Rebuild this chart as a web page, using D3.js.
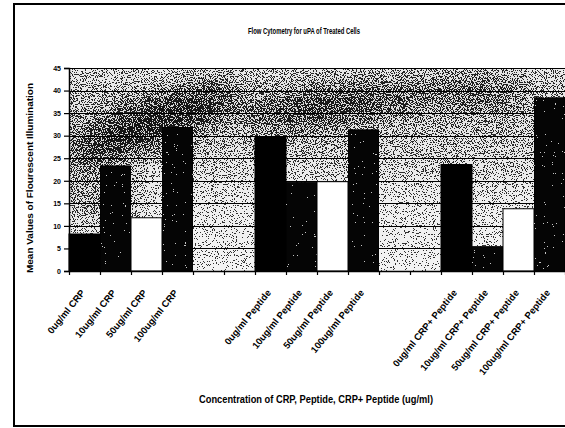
<!DOCTYPE html>
<html>
<head>
<meta charset="utf-8">
<script src="https://cdn.jsdelivr.net/npm/d3@7/dist/d3.min.js"></script>
<style>
  html, body { margin: 0; padding: 0; background: #fff; }
  svg { display: block; }
  text { font-family: Arial, "Liberation Sans", sans-serif; fill: #000; }
</style>
</head>
<body>
<div id="chart"></div>
<script>
// categories along the x axis (blank slots are the gaps between groups)
var categories = [
  '0ug/ml CRP', '10ug/ml CRP', '50ug/ml CRP', '100ug/ml CRP', '', '',
  '0ug/ml Peptide', '10ug/ml Peptide', '50ug/ml Peptide', '100ug/ml Peptide', '', '',
  '0ug/ml CRP+ Peptide', '10ug/ml CRP+ Peptide', '50ug/ml CRP+ Peptide', '100ug/ml CRP+ Peptide'
];
var doses = [0, 10, 50, 100, null, null, 0, 10, 50, 100, null, null, 0, 10, 50, 100];
var values = [8.2, 23.3, 11.8, 31.8, null, null, 29.8, 19.7, 19.8, 31.3, null, null, 23.6, 5.4, 13.8, 38.4];
var yTicks = [0, 5, 10, 15, 20, 25, 30, 35, 40, 45];

var title = 'Flow Cytometry for uPA of Treated Cells';
var xTitle = 'Concentration of CRP, Peptide, CRP+ Peptide (ug/ml)';
var yTitle = 'Mean Values of Flourescent Illumination';

(function () {
  var width = 565, height = 428;
  var plot = { left: 69, right: 565, top: 68, bottom: 271 };

  var svg = d3.select('#chart').append('svg')
    .attr('width', width).attr('height', height);

  var defs = svg.append('defs');

  // dither filter: noise + grey level, thresholded to black/white, then softened a bit
  function ditherFilter(id, amp, seed) {
    var f = defs.append('filter').attr('id', id)
      .attr('x', 0).attr('y', 0).attr('width', 1).attr('height', 1)
      .attr('color-interpolation-filters', 'sRGB');
    f.append('feTurbulence').attr('type', 'fractalNoise')
      .attr('baseFrequency', 0.9).attr('numOctaves', 2).attr('seed', seed).attr('result', 'noise');
    f.append('feColorMatrix').attr('in', 'noise').attr('type', 'matrix')
      .attr('values', '1 0 0 0 0  1 0 0 0 0  1 0 0 0 0  0 0 0 0 1').attr('result', 'grey');
    f.append('feComposite').attr('in', 'SourceGraphic').attr('in2', 'grey')
      .attr('operator', 'arithmetic').attr('k1', 0).attr('k2', 1).attr('k3', amp).attr('k4', -amp / 2)
      .attr('result', 'sum');
    var ct = f.append('feComponentTransfer').attr('in', 'sum').attr('result', 'bw');
    ['feFuncR', 'feFuncG', 'feFuncB'].forEach(function (fn) {
      ct.append(fn).attr('type', 'discrete').attr('tableValues', '0 1');
    });
    f.append('feComposite').attr('in', 'bw').attr('in2', 'SourceGraphic')
      .attr('operator', 'arithmetic').attr('k2', 0.75).attr('k3', 0.25).attr('result', 'mix');
    f.append('feComposite').attr('in', 'mix').attr('in2', 'SourceAlpha').attr('operator', 'in');
  }
  ditherFilter('dither', 2.2, 7);
  ditherFilter('ditherBar', 1.6, 11);

  defs.append('filter').attr('id', 'soft')
    .attr('x', -0.5).attr('y', -0.5).attr('width', 2).attr('height', 2)
    .append('feGaussianBlur').attr('stdDeviation', 14);

  defs.append('clipPath').attr('id', 'plotClip')
    .append('rect')
    .attr('x', plot.left).attr('y', plot.top)
    .attr('width', plot.right - plot.left).attr('height', plot.bottom - plot.top);

  // uneven grey tone of the plot area
  var grad = defs.append('linearGradient').attr('id', 'bgTone')
    .attr('x1', 0).attr('y1', 1).attr('x2', 0).attr('y2', 0);
  [[0, '#d0d0d0'], [0.35, '#bdbdbd'], [0.6, '#a2a2a2'], [0.8, '#959595'], [1, '#acacac']]
    .forEach(function (s) {
      grad.append('stop').attr('offset', s[0]).attr('stop-color', s[1]);
    });

  // outer chart border (cut off on the right)
  svg.append('rect')
    .attr('x', 14).attr('y', 4).attr('width', 570).attr('height', 422)
    .attr('fill', 'none').attr('stroke', '#000').attr('stroke-width', 2);

  var x = d3.scaleBand()
    .domain(d3.range(categories.length))
    .range([plot.left, plot.right])
    .padding(0);

  var xEdge = d3.scaleLinear()
    .domain([0, categories.length])
    .range([plot.left, plot.right]);

  var y = d3.scaleLinear().domain([0, 45]).range([plot.bottom, plot.top]);

  // plot background: grey tone with darker diagonal smears, dithered
  var bgOuter = svg.append('g').attr('clip-path', 'url(#plotClip)');
  var bg = bgOuter.append('g').attr('filter', 'url(#dither)');
  bg.append('rect')
    .attr('x', plot.left).attr('y', plot.top)
    .attr('width', plot.right - plot.left).attr('height', plot.bottom - plot.top)
    .attr('fill', 'url(#bgTone)');
  var smears = bg.append('g').attr('filter', 'url(#soft)');
  [[150, 125, 95, 22, -22, 0.55], [330, 105, 90, 18, -8, 0.45], [470, 90, 60, 14, 0, 0.4], [100, 200, 40, 25, 0, 0.3]]
    .forEach(function (e) {
      smears.append('ellipse')
        .attr('cx', e[0]).attr('cy', e[1]).attr('rx', e[2]).attr('ry', e[3])
        .attr('transform', 'rotate(' + e[4] + ',' + e[0] + ',' + e[1] + ')')
        .attr('fill', '#000').attr('fill-opacity', e[5]);
    });

  // gridlines
  svg.append('g').selectAll('line')
    .data(yTicks.filter(function (d) { return d > 0; }))
    .enter().append('line')
    .attr('x1', plot.left).attr('x2', plot.right)
    .attr('y1', function (d) { return Math.round(y(d)) + 0.5; })
    .attr('y2', function (d) { return Math.round(y(d)) + 0.5; })
    .attr('stroke', '#000').attr('stroke-width', 1.2);

  // bars
  var fillFor = { 0: '#000', 10: '#141414', 50: '#fff', 100: '#141414' };
  var idx = d3.range(values.length).filter(function (i) { return values[i] != null; });

  svg.append('g').selectAll('rect')
    .data(idx).enter().append('rect')
    .attr('x', function (i) { return x(i); })
    .attr('y', function (i) { return y(values[i]); })
    .attr('width', x.bandwidth())
    .attr('height', function (i) { return y(0) - y(values[i]); })
    .attr('fill', function (i) { return fillFor[doses[i]]; })
    .attr('stroke', '#000').attr('stroke-width', 1)
    .attr('filter', function (i) { return (doses[i] === 10 || doses[i] === 100) ? 'url(#ditherBar)' : null; });

  // y axis
  var yAxis = svg.append('g')
    .attr('transform', 'translate(' + plot.left + ',0)')
    .call(d3.axisLeft(y).tickValues(yTicks).tickSize(5).tickPadding(3).tickFormat(d3.format('d')));
  yAxis.select('.domain').attr('stroke', '#000').attr('stroke-width', 1.5);
  yAxis.selectAll('.tick line').attr('stroke', '#000').attr('stroke-width', 1.2);
  yAxis.selectAll('.tick text')
    .attr('font-size', '7px').attr('font-weight', 'bold')
    .attr('font-family', 'Arial, "Liberation Sans", sans-serif').attr('fill', '#000');

  // x axis line and ticks at category boundaries
  var xAxis = svg.append('g')
    .attr('transform', 'translate(0,' + plot.bottom + ')')
    .call(d3.axisBottom(xEdge).tickValues(d3.range(categories.length + 1)).tickSize(4).tickSizeOuter(0).tickFormat(''));
  xAxis.select('.domain').attr('stroke', '#000').attr('stroke-width', 1.5);
  xAxis.selectAll('.tick line').attr('stroke', '#000').attr('stroke-width', 1.2);

  // rotated category labels
  svg.append('g').selectAll('text')
    .data(d3.range(categories.length).filter(function (i) { return categories[i]; }))
    .enter().append('text')
    .attr('transform', function (i) {
      return 'translate(' + (x(i) + x.bandwidth() / 2 + 1) + ',' + (plot.bottom + 22) + ') rotate(-51)';
    })
    .attr('text-anchor', 'end')
    .attr('font-size', '9.5px')
    .attr('font-weight', 'bold')
    .text(function (i) { return categories[i]; });

  // titles
  svg.append('text')
    .attr('x', 304).attr('y', 34)
    .attr('text-anchor', 'middle')
    .attr('font-size', '9.5px').attr('font-weight', 'bold')
    .attr('textLength', 112).attr('lengthAdjust', 'spacingAndGlyphs')
    .text(title);

  svg.append('text')
    .attr('x', 316).attr('y', 403)
    .attr('text-anchor', 'middle')
    .attr('font-size', '10px').attr('font-weight', 'bold')
    .attr('textLength', 234).attr('lengthAdjust', 'spacingAndGlyphs')
    .text(xTitle);

  svg.append('text')
    .attr('transform', 'translate(33,178) rotate(-90)')
    .attr('text-anchor', 'middle')
    .attr('font-size', '8.5px').attr('font-weight', 'bold')
    .attr('textLength', 190).attr('lengthAdjust', 'spacingAndGlyphs')
    .text(yTitle);
})();
</script>
</body>
</html>
